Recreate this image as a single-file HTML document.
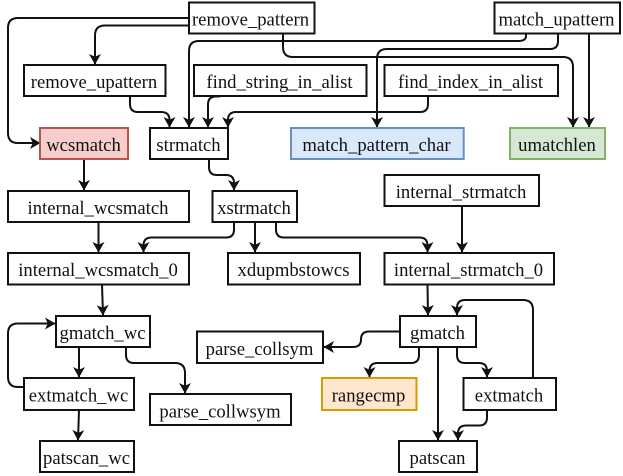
<!DOCTYPE html>
<html><head><meta charset="utf-8"><style>
html,body{margin:0;padding:0;background:#fff}
svg{display:block}
rect{stroke-width:2}
text{font-family:"Liberation Serif",serif;font-size:18.67px;fill:#111;text-anchor:middle}
.l{fill:none;stroke:#111;stroke-width:2}
</style></head><body>
<svg width="623" height="476" viewBox="0 0 623 476" xmlns="http://www.w3.org/2000/svg">
<defs>
<marker id="a" markerUnits="userSpaceOnUse" markerWidth="14" markerHeight="14" refX="10" refY="6.500" orient="auto" overflow="visible"><path d="M0 0.500L10.500 6.500L0 12.500L2.800 6.500Z" fill="#111"/></marker>
</defs>
<g class="l">
<path class="l" marker-end="url(#a)" d="M189 18H18Q8 18 8 28V133Q8 143 18 143H40"/>
<path class="l" marker-end="url(#a)" d="M189 25.500H105Q95 25.500 95 35.500V64"/>
<path class="l" marker-end="url(#a)" d="M283 33.500V47Q283 57 293 57H563Q573 57 573 67V127"/>
<path class="l" marker-end="url(#a)" d="M526 33.500V36Q526 41 518 41H199Q189 41 189 51V127"/>
<path class="l" marker-end="url(#a)" d="M558 33.500V41Q558 49 550 49H387Q377 49 377 59V127"/>
<path class="l" marker-end="url(#a)" d="M589 33.500V127"/>
<path class="l" marker-end="url(#a)" d="M130 96V104Q130 112 138 112H161Q169.500 112 169.500 120V127"/>
<path class="l" marker-end="url(#a)" d="M220 96.500H216Q208 96.500 208 104.500V127"/>
<path class="l" marker-end="url(#a)" d="M428 96V104Q428 112 420 112H236Q228 112 228 120V127"/>
<path class="l" marker-end="url(#a)" d="M84 159V190"/>
<path class="l" marker-end="url(#a)" d="M209 159V167Q209 175 217 175H226Q234 175 234 183V190"/>
<path class="l" marker-end="url(#a)" d="M98.500 222V252"/>
<path class="l" marker-end="url(#a)" d="M234 222V229.500Q234 237.500 226 237.500H151.500Q143.500 237.500 143.500 245.500V252"/>
<path class="l" marker-end="url(#a)" d="M255 222V252"/>
<path class="l" marker-end="url(#a)" d="M276 222V229.500Q276 237.500 284 237.500H419.500Q427.500 237.500 427.500 245.500V252"/>
<path class="l" marker-end="url(#a)" d="M462 206V252"/>
<path class="l" marker-end="url(#a)" d="M102 284.500L103 315"/>
<path class="l" marker-end="url(#a)" d="M427.500 284.500L428 315"/>
<path class="l" marker-end="url(#a)" d="M79 347V377"/>
<path class="l" marker-end="url(#a)" d="M24 387H18Q8 387 8 377V333.500Q8 323.500 18 323.500H55"/>
<path class="l" marker-end="url(#a)" d="M126 347V355Q126 363 134 363H175Q185 363 185 373V393"/>
<path class="l" marker-end="url(#a)" d="M79 410L78 440"/>
<path class="l" marker-end="url(#a)" d="M400 331.500H369Q361 331.500 361 339.500Q361 347 353 347H324"/>
<path class="l" marker-end="url(#a)" d="M419 347V355Q419 363 411 363H377.500Q369.500 363 369.500 371V377"/>
<path class="l" marker-end="url(#a)" d="M438 347V440"/>
<path class="l" marker-end="url(#a)" d="M457 347V355Q457 363 465 363H479Q487 363 487 371V377"/>
<path class="l" marker-end="url(#a)" d="M533 378V310Q533 300 523 300H465Q457 300 457 308V315"/>
<path class="l" marker-end="url(#a)" d="M487 410V417.500Q487 425.500 479 425.500H466Q458 425.500 458 433.500V440"/>
</g>
<g fill="#fff" stroke="#111">
<rect x="189" y="2.500" width="125.500" height="31"/>
<rect x="494.500" y="2.500" width="125.500" height="31"/>
<rect x="24" y="65" width="141.500" height="31"/>
<rect x="194" y="65" width="172.500" height="31"/>
<rect x="384.500" y="65" width="173.500" height="31"/>
<rect x="40" y="128" width="88" height="31" fill="#f8cecc" stroke="#b85450"/>
<rect x="150" y="128" width="78" height="31"/>
<rect x="291" y="128" width="172.700" height="31" fill="#dae8fc" stroke="#6c8ebf"/>
<rect x="510" y="128" width="95" height="31" fill="#d5e8d4" stroke="#82b366"/>
<rect x="384.500" y="175" width="154.500" height="31"/>
<rect x="8" y="191" width="181" height="31"/>
<rect x="212.500" y="191" width="84.500" height="31"/>
<rect x="8" y="253" width="181" height="31.500"/>
<rect x="228" y="253" width="132" height="31.500"/>
<rect x="384.500" y="253" width="169.500" height="31.500"/>
<rect x="56" y="316" width="94" height="31"/>
<rect x="400" y="316" width="76" height="31"/>
<rect x="197" y="331.500" width="126" height="31.500"/>
<rect x="24" y="378" width="110" height="32"/>
<rect x="150" y="394" width="141" height="31"/>
<rect x="322" y="378" width="94.500" height="32" fill="#ffe6cc" stroke="#d79b00"/>
<rect x="463.500" y="378" width="92.500" height="32"/>
<rect x="40" y="441" width="94" height="31"/>
<rect x="399" y="441" width="78" height="31"/>
</g>
<g>
<text x="250.500" y="25.500">remove_pattern</text>
<text x="556.500" y="25.500">match_upattern</text>
<text x="94" y="88">remove_upattern</text>
<text x="279.500" y="88">find_string_in_alist</text>
<text x="470.500" y="88">find_index_in_alist</text>
<text x="83.500" y="151">wcsmatch</text>
<text x="188.500" y="151">strmatch</text>
<text x="376.500" y="151">match_pattern_char</text>
<text x="557" y="151">umatchlen</text>
<text x="461" y="198">internal_strmatch</text>
<text x="98" y="214">internal_wcsmatch</text>
<text x="254" y="214">xstrmatch</text>
<text x="98" y="276">internal_wcsmatch_0</text>
<text x="293.500" y="276">xdupmbstowcs</text>
<text x="468.500" y="276">internal_strmatch_0</text>
<text x="102.500" y="339">gmatch_wc</text>
<text x="437.500" y="339">gmatch</text>
<text x="259.500" y="355">parse_collsym</text>
<text x="78.500" y="401.500">extmatch_wc</text>
<text x="220" y="417.500">parse_collwsym</text>
<text x="368.500" y="401.500">rangecmp</text>
<text x="509" y="401.500">extmatch</text>
<text x="86.500" y="464">patscan_wc</text>
<text x="437.500" y="464">patscan</text>
</g>
</svg>
</body></html>
